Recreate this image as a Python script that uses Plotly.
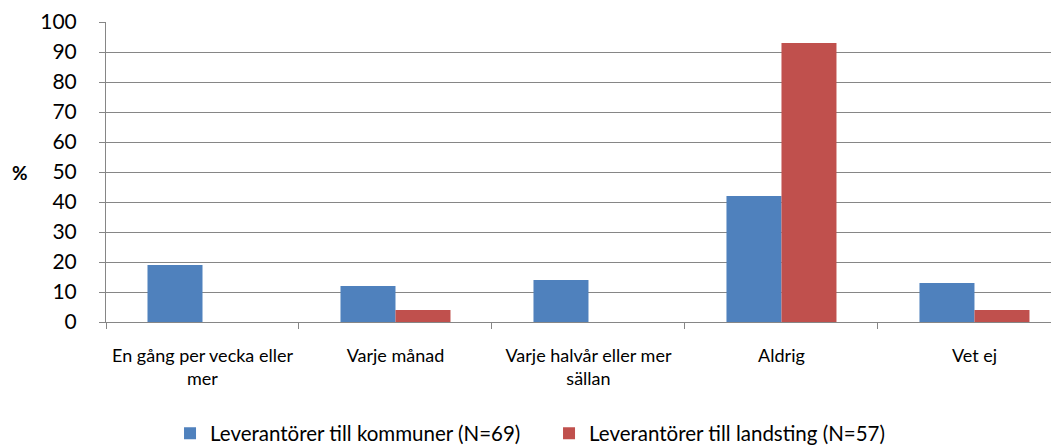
import plotly.graph_objects as go

categories = ["En gång per vecka eller<br>mer", "Varje månad", "Varje halvår eller mer<br>sällan", "Aldrig", "Vet ej"]
kommuner = [19, 12, 14, 42, 13]
landsting = [0, 4, 0, 93, 4]
series_names = ["Leverantörer till kommuner (N=69)", "Leverantörer till landsting (N=57)"]
y_ticks = list(range(0, 101, 10))

FONT = "Lato"
GRID = "#868686"

fig = go.Figure()
fig.add_trace(go.Bar(x=categories, y=kommuner, name=series_names[0],
                     marker=dict(color="#4F81BD", line=dict(width=0))))
fig.add_trace(go.Bar(x=categories, y=landsting, name=series_names[1],
                     marker=dict(color="#C0504D", line=dict(width=0))))

fig.update_layout(
    width=1059, height=447,
    margin=dict(l=98, r=8, t=14, b=133, autoexpand=False),
    paper_bgcolor="white", plot_bgcolor="white",
    barmode="group", bargap=0.43, bargroupgap=0,
    font=dict(family=FONT, color="black"),
    showlegend=True,
    legend=dict(orientation="h", xref="container", yref="container",
                x=0.153, xanchor="left", y=0.093, yanchor="top",
                font=dict(size=20.5, family=FONT), entrywidth=334,
                itemwidth=30, tracegroupgap=0),
    xaxis=dict(type="category", range=[-0.5, 4.438], tickson="boundaries",
               ticks="outside", ticklen=6, tickcolor=GRID, tickwidth=1,
               showline=True, linecolor=GRID, linewidth=1, automargin=False,
               showgrid=False, tickfont=dict(size=18, family=FONT),
               ticklabelstandoff=17),
    yaxis=dict(range=[0, 100], tickvals=y_ticks, ticks="outside", ticklen=6,
               tickcolor=GRID, showline=True, linecolor=GRID, linewidth=1,
               showgrid=True, gridcolor=GRID, gridwidth=1, zeroline=False,
               automargin=False,
               tickfont=dict(size=21, family=FONT), ticklabelstandoff=18),
    annotations=[dict(text="<b>%</b>", xref="paper", yref="y", x=-0.09, y=50,
                      xanchor="center", yanchor="middle", showarrow=False,
                      font=dict(size=19, family=FONT))],
)

fig.write_html("out.html")
